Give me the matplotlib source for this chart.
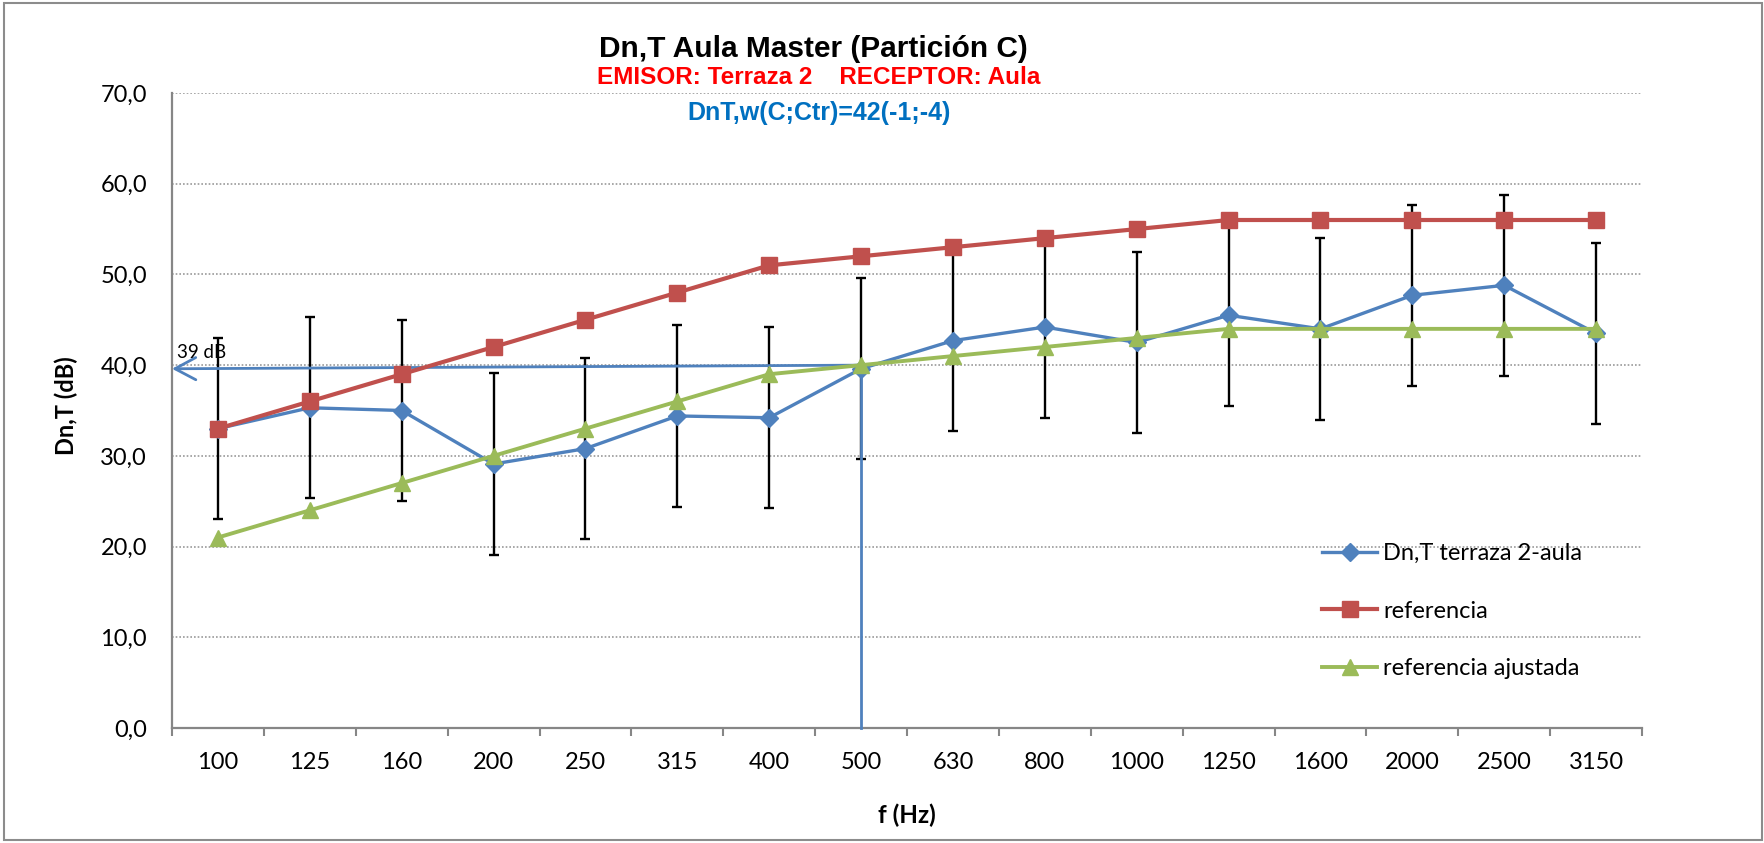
import numpy as np
import matplotlib
matplotlib.use("Agg")
import matplotlib.pyplot as plt
from matplotlib.patches import Rectangle

freqs = ["100", "125", "160", "200", "250", "315", "400", "500",
         "630", "800", "1000", "1250", "1600", "2000", "2500", "3150"]
dnt = [33.0, 35.3, 35.0, 29.1, 30.8, 34.4, 34.2, 39.6,
       42.7, 44.2, 42.5, 45.5, 44.0, 47.7, 48.8, 43.5]
dnt_err = [10] * 16
referencia = [33, 36, 39, 42, 45, 48, 51, 52, 53, 54, 55, 56, 56, 56, 56, 56]
ref_ajustada = [21, 24, 27, 30, 33, 36, 39, 40, 41, 42, 43, 44, 44, 44, 44, 44]
yticks = [0, 10, 20, 30, 40, 50, 60, 70]

# indicator line for the weighted value (read at 500 Hz)
idx_500 = 7
level_500 = 40.0
level_axis = 39.6
level_label = "39 dB"

BLUE = "#4F81BD"
RED = "#C0504D"
GREEN = "#9BBB59"
GRID = "#9a9a9a"
AXC = "#868686"

W, H = 1764, 843
plt.rcParams['font.family'] = ['Lato', 'DejaVu Sans']
fig = plt.figure(figsize=(W / 100, H / 100), dpi=100)
ax = fig.add_axes([172 / W, 1 - 728 / H, (1642 - 172) / W, (728 - 93) / H])

x = np.arange(len(freqs))

ax.errorbar(x, dnt, yerr=dnt_err, fmt="none", ecolor="black", elinewidth=1.7,
            capsize=3.6, capthick=1.7, zorder=2)
ax.plot(x, dnt, color=BLUE, lw=2.4, marker="D", ms=9.5, zorder=3,
        label="Dn,T terraza 2-aula")
ax.plot(x, referencia, color=RED, lw=3.0, marker="s", ms=11, zorder=4,
        label="referencia")
ax.plot(x, ref_ajustada, color=GREEN, lw=2.8, marker="^", ms=11.5, zorder=5,
        label="referencia ajustada")

# weighted value indicator
ax.plot([idx_500, idx_500], [level_500, 0], color=BLUE, lw=2, zorder=3,
        clip_on=False)
ax.annotate("", xy=(-0.5, level_axis), xytext=(idx_500, level_500),
            arrowprops=dict(arrowstyle="->,head_length=0.75,head_width=0.4",
                            color=BLUE, lw=2, shrinkA=0, shrinkB=0,
                            mutation_scale=20),
            annotation_clip=False, zorder=3)
ax.text(-0.45, level_axis + 0.9, level_label, fontsize=13.5, ha="left",
        va="bottom", color="black")

ax.set_xlim(-0.5, len(freqs) - 0.5)
ax.set_ylim(0, 70)
ax.set_yticks(yticks)
ax.set_yticklabels([f"{v:.1f}".replace(".", ",") for v in yticks])
ax.set_xticks(x)
ax.set_xticklabels(freqs)
ax.set_xticks(np.arange(len(freqs) + 1) - 0.5, minor=True)
ax.tick_params(axis="x", which="major", length=0, pad=17, labelsize=17)
ax.tick_params(axis="x", which="minor", length=5.5, width=1.5, color=AXC,
               direction="out")
ax.tick_params(axis="y", length=0, pad=18, labelsize=17)

for y in yticks[1:]:
    ax.axhline(y, color=GRID, lw=1.2, ls=(0, (1, 1.2)), zorder=1)
for s in ["top", "right"]:
    ax.spines[s].set_visible(False)
for s in ["left", "bottom"]:
    ax.spines[s].set_color(AXC)
    ax.spines[s].set_linewidth(1.6)

# titles
sans = ["Liberation Sans", "DejaVu Sans"]
fig.text(813 / W, 1 - 57 / H, "Dn,T Aula Master (Partición C)", ha="center",
         va="baseline", fontsize=21.5, fontweight="bold", family=sans)
fig.text(819 / W, 1 - 84 / H, "EMISOR: Terraza 2    RECEPTOR: Aula",
         ha="center", va="baseline", fontsize=17.5, fontweight="bold",
         color="#FF0000", family=sans)
fig.text(819 / W, 1 - 120 / H, "DnT,w(C;Ctr)=42(-1;-4)", ha="center",
         va="baseline", fontsize=18, fontweight="bold", color="#0070C0",
         family=sans)

fig.text(66 / W, 1 - 406 / H, "Dn,T (dB)", rotation=90, ha="center",
         va="center", fontsize=17, fontweight="bold")
fig.text(907 / W, 1 - 815 / H, "f (Hz)", ha="center", va="center",
         fontsize=17.5, fontweight="bold")

ax.legend(loc="center left", bbox_to_anchor=(1310 / W, 1 - 611 / H),
          bbox_transform=fig.transFigure, frameon=False, fontsize=17,
          borderpad=0, handlelength=2.35, handletextpad=0.25,
          labelspacing=1.55, numpoints=1)

fig.patches.append(Rectangle((4 / W, 3 / H), (1762 - 4) / W, (840 - 3) / H,
                             transform=fig.transFigure, fill=False,
                             edgecolor="#8c8c8c", lw=1.5))

fig.savefig("out.png", dpi=100)
